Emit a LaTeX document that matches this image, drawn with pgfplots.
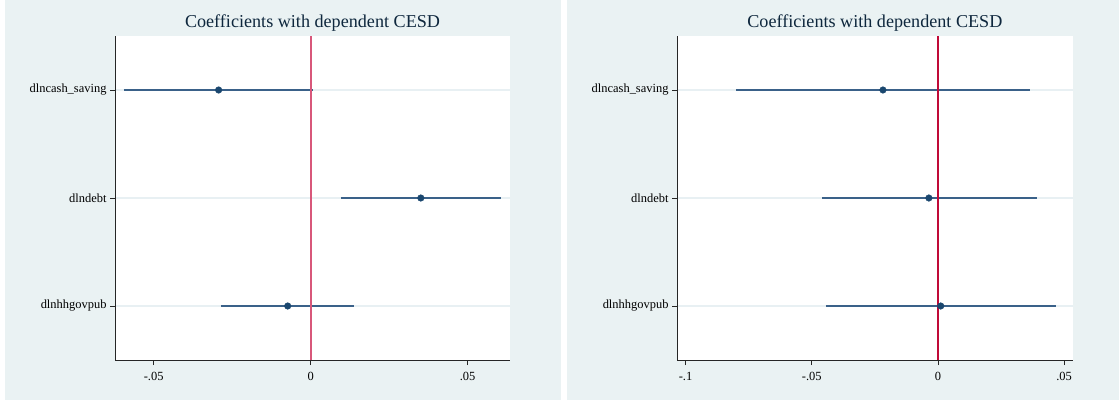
\documentclass[border=0pt]{standalone}
\usepackage{pgfplots}
\pgfplotsset{compat=1.18}
\usepackage{fontspec}
\setmainfont{Liberation Serif}
\definecolor{bgc}{HTML}{EAF2F3}
\definecolor{navy}{HTML}{1A476F}
\definecolor{cic}{HTML}{3A6189}
\definecolor{gridc}{HTML}{E8F0F3}
\definecolor{redl}{HTML}{D8577A}
\definecolor{redr}{HTML}{C00A38}
\pgfplotsset{
  coefstyle/.style={
    scale only axis, width=395bp, height=324bp,
    ymin=0.5, ymax=3.5, y dir=reverse,
    ytick={1,2,3},
    yticklabels={dlncash\_saving, dlndebt, dlnhhgovpub},
    scaled x ticks=false,
    axis x line*=bottom, axis y line*=left,
    axis line style={black!85, line width=0.9bp},
    tick style={black!85, line width=0.9bp},
    tick align=outside, major tick length=5bp,
    ymajorgrids, major grid style={gridc, line width=1.2bp},
    tick label style={font=\fontsize{12.5}{14}\selectfont},
    xticklabel style={yshift=-4bp},
    /pgf/number format/assume math mode=true,
    title={Coefficients with dependent CESD},
    title style={at={(0.5,1)}, anchor=base, yshift=2.5bp, font=\fontsize{18.2}{20}\selectfont, text=navy!55!black},
    clip=false,
    axis background/.style={fill=white},
  },
  ci/.style={cic, line width=1.6bp, no marks},
  pt/.style={only marks, mark=*, mark size=3.3bp, navy, mark options={fill=navy, draw=navy}},
}
\begin{document}
\begin{tikzpicture}[x=1bp,y=1bp]
\fill[white] (0,0) rectangle (1119,404);
\fill[bgc] (5,4) rectangle (561,404);
\fill[bgc] (567,4) rectangle (1119,404);
% Left panel
\begin{axis}[coefstyle, at={(115bp,44bp)}, anchor=south west,
  xmin=-0.0623, xmax=0.0635,
  xtick={-0.05,0,0.05}, xticklabels={-.05, 0, .05}]
\addplot[ci] coordinates {(-0.0595,1) (0.0008,1)};
\addplot[ci] coordinates {(0.0096,2) (0.0607,2)};
\addplot[ci] coordinates {(-0.0286,3) (0.0138,3)};
\addplot[redl, line width=1.9bp] coordinates {(0,0.5) (0,3.5)};
\addplot[pt] coordinates {(-0.0293,1) (0.0351,2) (-0.0073,3)};
\end{axis}
% Right panel
\begin{axis}[coefstyle, at={(677bp,44bp)}, anchor=south west, width=395.7bp,
  xmin=-0.1034, xmax=0.0534,
  xtick={-0.1,-0.05,0,0.05}, xticklabels={-.1, -.05, 0, .05}]
\addplot[ci] coordinates {(-0.0800,1) (0.0365,1)};
\addplot[ci] coordinates {(-0.0458,2) (0.0391,2)};
\addplot[ci] coordinates {(-0.0444,3) (0.0466,3)};
\addplot[redr, line width=1.2bp] coordinates {(0,0.5) (0,3.5)};
\addplot[pt] coordinates {(-0.0218,1) (-0.0036,2) (0.0011,3)};
\end{axis}
\end{tikzpicture}
\end{document}
